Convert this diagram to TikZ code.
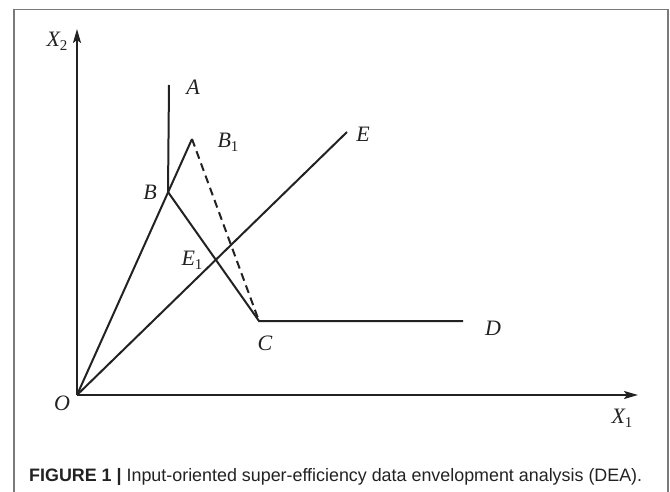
\documentclass[tikz,border=0pt]{standalone}
\usepackage{fontspec}
\setmainfont{Liberation Serif}
\newfontfamily\capfont{Liberation Sans}
\usepackage{tikz}
\definecolor{plotLine}{HTML}{222222}
\definecolor{frameGray}{HTML}{7A7A7A}
\definecolor{capText}{HTML}{222222}
\usetikzlibrary{arrows.meta}
\newcommand{\lowsub}[1]{{\upshape\fontsize{15}{15}\selectfont\raisebox{-4pt}{#1}}}

\begin{document}
\begin{tikzpicture}[
  x=1pt, y=-1pt,
  curve/.style={line width=2pt, plotLine, line join=miter},
  proj/.style={curve, dash pattern=on 8pt off 5pt},
  axis/.style={line width=2pt, plotLine, -{Stealth[length=14pt,width=8pt,inset=3pt]}},
  pt/.style={font=\fontsize{22}{24}\selectfont\itshape, text=plotLine, inner sep=0pt},
  frame/.style={line width=1.3pt, frameGray}
]
\useasboundingbox (0,0) rectangle (670,492);

% Frame (open at the bottom)
\draw[frame] (14,494) |- (668,9.5) -- (668,494);

% Points
\coordinate (O) at (77,395);
\coordinate (x2end) at (77,29);
\coordinate (x1end) at (638,395);
\coordinate (A) at (169,85);
\coordinate (B) at (168,192);
\coordinate (B1) at (192,139);
\coordinate (C) at (259,321);
\coordinate (D) at (463,321);
\coordinate (E) at (347,132);

% Axes
\draw[axis] (O) -- (x2end);
\draw[axis] (O) -- (x1end);

% Frontier and rays
\draw[curve] (A) -- (B) -- (C) -- (D);
\draw[curve] (O) -- (B1);
\draw[curve] (O) -- (E);
\draw[proj] (B1) -- (C);

% Labels
\node[pt] (lX2) at (57,41) {X\lowsub{2}};
\node[pt] (lX1) at (622,418) {X\lowsub{1}};
\node[pt] (lO) at (62,403) {O};
\node[pt] (lA) at (193,87) {A};
\node[pt] (lB) at (150,192) {B};
\node[pt] (lB1) at (228,142) {B\lowsub{1}};
\node[pt] (lE) at (363,134) {E};
\node[pt] (lE1) at (192,260) {E\lowsub{1}};
\node[pt] (lC) at (265,343) {C};
\node[pt] (lD) at (493,328) {D};

% Caption
\node[anchor=west, inner sep=0pt, text=capText] (caption) at (29,477)
  {\resizebox{613pt}{\height}{\capfont\fontsize{18}{20}\selectfont\textbf{FIGURE 1 |} Input-oriented super-efficiency data envelopment analysis (DEA).}};
\end{tikzpicture}
\end{document}
